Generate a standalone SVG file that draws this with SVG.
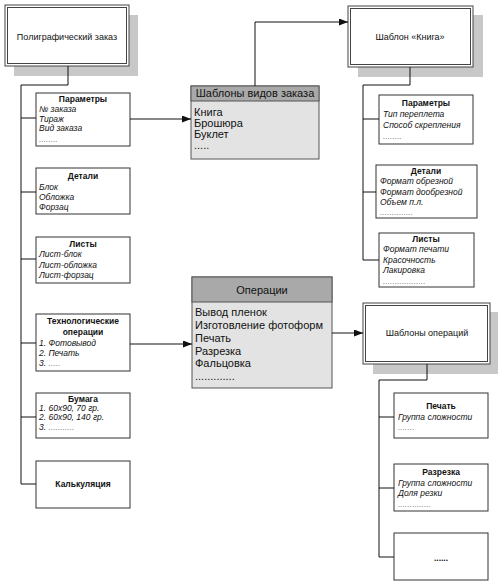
<svg xmlns="http://www.w3.org/2000/svg" width="500" height="585" viewBox="0 0 500 585">
<style>
text{font-family:"Liberation Sans",Arial,sans-serif;fill:#111}
.b{fill:#fff;stroke:#333;stroke-width:1}
.sh{fill:#c8c8c8}
.dbl{fill:#fff;stroke:#444;stroke-width:1}
.t{font-size:8.5px;font-weight:bold;text-anchor:middle}
.i{font-size:8.5px;font-style:italic}
.d{font-size:8.5px;font-style:italic;fill:#888}
.m{font-size:9px;text-anchor:middle}
.hd{fill:#a9a9a9;stroke:#555;stroke-width:1}
.bd{fill:#e3e3e3;stroke:#555;stroke-width:1}
.L{font-size:11px}
.Lc{font-size:11px;text-anchor:middle}
.c{fill:none;stroke:#111;stroke-width:1}
</style>
<defs>
<marker id="ar" markerUnits="userSpaceOnUse" markerWidth="9" markerHeight="7" refX="9" refY="3.5" orient="auto">
<path d="M0,0 L9,3.5 L0,7 z" fill="#111"/>
</marker>
</defs>

<g id="poligraf">
<rect class="sh" x="14" y="15" width="124" height="61"/>
<rect class="dbl" x="5" y="5" width="124" height="61"/>
<rect class="dbl" x="7.5" y="7.5" width="119" height="56"/>
<text class="m" x="67" y="40">Полиграфический заказ</text>
</g>

<g id="params-left">
<rect class="b" x="36" y="93" width="94" height="53"/>
<text class="t" x="83" y="102">Параметры</text>
<text class="i" x="39" y="112">№ заказа</text>
<text class="i" x="39" y="121.5">Тираж</text>
<text class="i" x="39" y="131">Вид заказа</text>
<text class="d" x="39" y="142">........</text>
</g>

<g id="details-left">
<rect class="b" x="36" y="168" width="94" height="46"/>
<text class="t" x="83" y="179">Детали</text>
<text class="i" x="39" y="190">Блок</text>
<text class="i" x="39" y="200">Обложка</text>
<text class="i" x="39" y="210">Форзац</text>
</g>

<g id="sheets-left">
<rect class="b" x="36" y="237" width="94" height="46"/>
<text class="t" x="83" y="247">Листы</text>
<text class="i" x="39" y="257">Лист-блок</text>
<text class="i" x="39" y="267.5">Лист-обложка</text>
<text class="i" x="39" y="278">Лист-форзац</text>
</g>

<g id="tech-ops">
<rect class="b" x="36" y="314" width="94" height="57"/>
<text class="t" x="83" y="324">Технологические</text>
<text class="t" x="83" y="335">операции</text>
<text class="i" x="39" y="346">1. Фотовывод</text>
<text class="i" x="39" y="356">2. Печать</text>
<text class="i" x="39" y="366">3. <tspan fill="#888">.....</tspan></text>
</g>

<g id="paper">
<rect class="b" x="36" y="393" width="94" height="45"/>
<text class="t" x="83" y="402">Бумага</text>
<text class="i" x="39" y="411">1. 60х90, 70 гр.</text>
<text class="i" x="39" y="420">2. 60х90, 140 гр.</text>
<text class="i" x="39" y="430">3. <tspan fill="#888">...........</tspan></text>
</g>

<g id="calc">
<rect class="b" x="36" y="461" width="94" height="47"/>
<text class="t" x="83" y="487">Калькуляция</text>
</g>

<g id="order-templates">
<rect class="bd" x="191" y="86" width="128" height="73"/>
<rect class="hd" x="191" y="86" width="128" height="15"/>
<text class="Lc" x="255" y="97">Шаблоны видов заказа</text>
<text class="L" x="194" y="116">Книга</text>
<text class="L" x="194" y="127">Брошюра</text>
<text class="L" x="194" y="138">Буклет</text>
<text class="L" x="194" y="149" fill="#444">.....</text>
</g>

<g id="operations">
<rect class="bd" x="192" y="277" width="140" height="111"/>
<rect class="hd" x="192" y="277" width="140" height="25"/>
<text class="Lc" x="262" y="294">Операции</text>
<text class="L" x="195" y="316">Вывод пленок</text>
<text class="L" x="195" y="329">Изготовление фотоформ</text>
<text class="L" x="195" y="341.5">Печать</text>
<text class="L" x="195" y="354.5">Разрезка</text>
<text class="L" x="195" y="367">Фальцовка</text>
<text class="L" x="195" y="380" fill="#444">.............</text>
</g>

<g id="book-template">
<rect class="sh" x="358" y="15" width="125" height="62"/>
<rect class="dbl" x="348" y="6" width="125" height="61"/>
<rect class="dbl" x="350.5" y="8.5" width="120" height="56"/>
<text class="m" x="410" y="40">Шаблон «Книга»</text>
</g>

<g id="params-right">
<rect class="b" x="379" y="95" width="94" height="49"/>
<text class="t" x="426" y="106">Параметры</text>
<text class="i" x="383" y="117">Тип переплета</text>
<text class="i" x="383" y="128">Способ скрепления</text>
<text class="d" x="383" y="139">........</text>
</g>

<g id="details-right">
<rect class="b" x="376" y="165" width="101" height="53"/>
<text class="t" x="426" y="173.5">Детали</text>
<text class="i" x="380" y="184">Формат обрезной</text>
<text class="i" x="380" y="195">Формат дообрезной</text>
<text class="i" x="380" y="205">Объем п.л.</text>
<text class="d" x="380" y="215">..............</text>
</g>

<g id="sheets-right">
<rect class="b" x="379" y="233" width="95" height="54"/>
<text class="t" x="426" y="242">Листы</text>
<text class="i" x="383" y="252">Формат печати</text>
<text class="i" x="383" y="262.5">Красочность</text>
<text class="i" x="383" y="273">Лакировка</text>
<text class="d" x="383" y="284">..................</text>
</g>

<g id="op-templates">
<rect class="sh" x="373" y="312" width="125" height="62"/>
<rect class="dbl" x="363" y="303" width="127" height="61"/>
<rect class="dbl" x="365.5" y="305.5" width="122" height="56"/>
<text class="m" x="427" y="336">Шаблоны операций</text>
</g>

<g id="print-op">
<rect class="b" x="394" y="393" width="94" height="45"/>
<text class="t" x="441" y="409">Печать</text>
<text class="i" x="398" y="420">Группа сложности</text>
<text class="d" x="398" y="430">.......</text>
</g>

<g id="cut-op">
<rect class="b" x="394" y="464" width="94" height="47"/>
<text class="t" x="441" y="475">Разрезка</text>
<text class="i" x="398" y="485.5">Группа сложности</text>
<text class="i" x="398" y="496">Доля резки</text>
<text class="d" x="398" y="507">..............</text>
</g>

<g id="more-op">
<rect class="b" x="394" y="533" width="94" height="47"/>
<text class="t" x="441" y="561">......</text>
</g>

<g id="connectors">
<path class="c" d="M68 66 V85 H21 V484 H36"/>
<path class="c" d="M21 118 H36 M21 192 H36 M21 259 H36 M21 343 H36 M21 417 H36"/>
<path class="c" d="M130 119 H191" marker-end="url(#ar)"/>
<path class="c" d="M255 86 V22 H348" marker-end="url(#ar)"/>
<path class="c" d="M130 344 H192" marker-end="url(#ar)"/>
<path class="c" d="M332 333 H363" marker-end="url(#ar)"/>
<path class="c" d="M410 67 V85 H363 V260 H379 M363 119 H379 M363 192 H376"/>
<path class="c" d="M427 364 V380 H379 V557 H394 M379 417 H394 M379 488 H394"/>
</g>
</svg>
